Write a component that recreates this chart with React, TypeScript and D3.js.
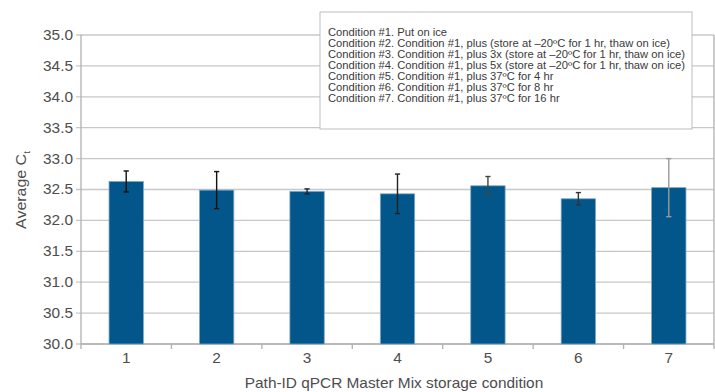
import React from "react";
import * as d3 from "d3";

const categories = ["1", "2", "3", "4", "5", "6", "7"];
const means = [32.63, 32.49, 32.47, 32.43, 32.56, 32.35, 32.53];
const errors = [0.17, 0.3, 0.04, 0.32, 0.15, 0.1, 0.47];
const errColors = ["#111", "#111", "#222", "#222", "#444", "#333", "#9a9a9a"];
const yTicks = [30.0, 30.5, 31.0, 31.5, 32.0, 32.5, 33.0, 33.5, 34.0, 34.5, 35.0];
const legendLines = [
  "Condition #1. Put on ice",
  "Condition #2. Condition #1, plus (store at \u201320\u00BAC for 1 hr, thaw on ice)",
  "Condition #3. Condition #1, plus 3x (store at \u201320\u00BAC for 1 hr, thaw on ice)",
  "Condition #4. Condition #1, plus 5x (store at \u201320\u00BAC for 1 hr, thaw on ice)",
  "Condition #5. Condition #1, plus 37\u00BAC for 4 hr",
  "Condition #6. Condition #1, plus 37\u00BAC for 8 hr",
  "Condition #7. Condition #1, plus 37\u00BAC for 16 hr",
];

const W = 715;
const H = 392;
const left = 81;
const right = 714;
const top = 35;
const bottom = 344;
const font = "'Liberation Sans', Arial, sans-serif";
const SX = 1.1;

function SText(props: { x: number; y: number; size: number; anchor?: string; fill: string; rotate?: number; dy?: string; children: React.ReactNode }) {
  const { x, y, size, anchor, fill, rotate, dy, children } = props;
  return (
    <text
      transform={`translate(${x},${y})${rotate ? ` rotate(${rotate})` : ""} scale(${SX},1)`}
      textAnchor={anchor || "start"}
      fontSize={size}
      fill={fill}
      dy={dy}
    >
      {children}
    </text>
  );
}

export default function App() {
  const x = d3.scaleBand<string>().domain(categories).range([left, right]).paddingInner(0.62).paddingOuter(0.31);
  const xb = d3.scaleBand<string>().domain(categories).range([left, right]);
  const y = d3.scaleLinear().domain([30, 35]).range([bottom, top]);
  const textColor = "#4d4d4d";
  return (
    <svg width={W} height={H} style={{ position: "absolute", left: 0, top: 0, background: "#fff" }} fontFamily={font}>
      {yTicks.map((t) => (
        <g key={t}>
          <line x1={left - 5} x2={right} y1={y(t)} y2={y(t)} stroke="#c8c8c8" strokeWidth={1.3} />
          <SText x={73} y={y(t)} dy="0.35em" anchor="end" size={14} fill={textColor}>
            {t.toFixed(1)}
          </SText>
        </g>
      ))}
      <line x1={left} x2={left} y1={top} y2={bottom} stroke="#b0b0b0" strokeWidth={1.3} />
      <line x1={right} x2={right} y1={top} y2={bottom} stroke="#b0b0b0" strokeWidth={1.3} />
      <line x1={left} x2={right} y1={bottom} y2={bottom} stroke="#b0b0b0" strokeWidth={1.3} />
      {categories.map((c) => (
        <line key={"xt" + c} x1={xb(c)!} x2={xb(c)!} y1={bottom} y2={bottom + 5} stroke="#b0b0b0" strokeWidth={1.3} />
      ))}
      <line x1={right} x2={right} y1={bottom} y2={bottom + 5} stroke="#b0b0b0" strokeWidth={1.3} />
      {categories.map((c, i) => (
        <rect
          key={"b" + c}
          x={x(c)!}
          y={y(means[i])}
          width={x.bandwidth()}
          height={bottom - y(means[i])}
          fill="#02568a"
          stroke="#7fa7c6"
          strokeWidth={0.8}
        />
      ))}
      {categories.map((c, i) => {
        const cx = x(c)! + x.bandwidth() / 2;
        const y1 = y(means[i] + errors[i]);
        const y2 = y(means[i] - errors[i]);
        return (
          <g key={"e" + c} stroke={errColors[i]} strokeWidth={1.4}>
            <line x1={cx} x2={cx} y1={y1} y2={y2} />
            <line x1={cx - 2.6} x2={cx + 2.6} y1={y1} y2={y1} />
            <line x1={cx - 2.6} x2={cx + 2.6} y1={y2} y2={y2} />
          </g>
        );
      })}
      {categories.map((c) => (
        <SText key={"xl" + c} x={xb(c)! + xb.bandwidth() / 2} y={363} anchor="middle" size={14} fill={textColor}>
          {c}
        </SText>
      ))}
      <SText x={394} y={388} anchor="middle" size={14} fill={textColor}>
        Path-ID qPCR Master Mix storage condition
      </SText>
      <SText x={26} y={190} rotate={-90} anchor="middle" size={14.5} fill={textColor}>
        Average C<tspan fontSize={9} dy={4}>t</tspan>
      </SText>
      <rect x={320} y={12} width={372} height={117} fill="#fff" stroke="#bdbdbd" strokeWidth={1} />
      {legendLines.map((l, i) => (
        <SText key={"lg" + i} x={328} y={32 + i * 11} dy="0.35em" size={10.2} fill="#3a3a3a">
          {l}
        </SText>
      ))}
    </svg>
  );
}
